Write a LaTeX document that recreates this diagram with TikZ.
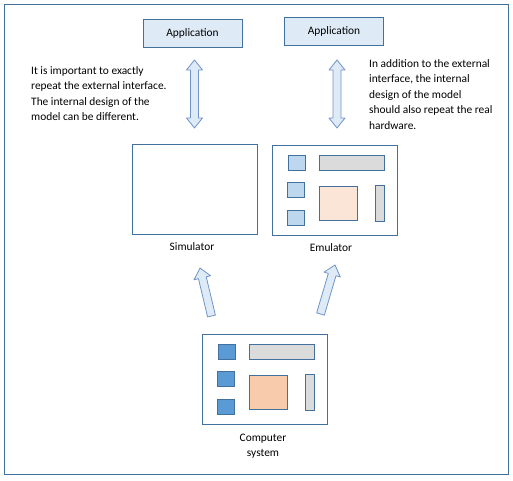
\documentclass[tikz,border=0pt]{standalone}
\usepackage{fontspec}
\setmainfont{Carlito}
\usetikzlibrary{calc}

\definecolor{lineblue}{HTML}{41719C}
\definecolor{paleblue}{HTML}{DEEBF7}
\definecolor{arrowblue}{HTML}{7094C6}
\definecolor{midblue}{HTML}{BDD7EE}
\definecolor{darkblue}{HTML}{5B9BD5}
\definecolor{chipgray}{HTML}{DBDBDB}
\definecolor{lightpeach}{HTML}{FBE5D6}
\definecolor{peach}{HTML}{F8CBAD}

% block arrow from tail #1 to tip #2
\newcommand{\blockarr}[2]{%
  \coordinate (hb) at ($(#2)!10pt!(#1)$);
  \draw[blockarrow] ($(#1)!4pt!90:(#2)$) -- ($(hb)!4pt!-90:(#1)$)
    -- ($(hb)!8.5pt!-90:(#1)$) -- (#2) -- ($(hb)!8.5pt!90:(#1)$)
    -- ($(hb)!4pt!90:(#1)$) -- ($(#1)!4pt!-90:(#2)$) -- cycle;}
% block arrow with tips at #1 and #2
\newcommand{\dblarr}[2]{%
  \coordinate (ha) at ($(#1)!10pt!(#2)$);
  \coordinate (hb) at ($(#2)!10pt!(#1)$);
  \draw[blockarrow] (#1) -- ($(ha)!8pt!90:(#2)$) -- ($(ha)!4pt!90:(#2)$)
    -- ($(hb)!4pt!-90:(#1)$) -- ($(hb)!8pt!-90:(#1)$) -- (#2)
    -- ($(hb)!8pt!90:(#1)$) -- ($(hb)!4pt!90:(#1)$)
    -- ($(ha)!4pt!-90:(#2)$) -- ($(ha)!8pt!-90:(#2)$) -- cycle;}
% parts inside a board: #1 board, #2 port colour, #3 chip colour
\newcommand{\board}[3]{%
  \foreach \dx/\dy/\k in {16/10/1,15/37/2,15/65/3}
    \node[part, fill=#2, minimum width=17pt, minimum height=15pt]
      (#1port\k) at ($(#1.north west)+(\dx,\dy)$) {};
  \node[part, fill=chipgray, minimum width=65pt, minimum height=15pt]
    (#1bus) at ($(#1.north west)+(47,10)$) {};
  \node[part, fill=#3, minimum width=38pt, minimum height=34pt]
    (#1cpu) at ($(#1.north west)+(47,41)$) {};
  \node[part, fill=chipgray, minimum width=9pt, minimum height=36pt]
    (#1mem) at ($(#1.north west)+(103,40)$) {};}

\begin{document}
\begin{tikzpicture}[x=1pt,y=-1pt,
    every node/.style={font=\fontsize{11.4}{15.5}\selectfont},
    box/.style={draw=lineblue, line width=1pt, inner sep=0pt,
                minimum width=125pt, minimum height=90pt},
    appbox/.style={draw=lineblue, fill=paleblue, line width=1pt,
                   minimum width=99pt, minimum height=28pt},
    part/.style={draw=lineblue, line width=1pt, anchor=north west, inner sep=0pt},
    note/.style={anchor=north west, align=left, inner sep=0pt},
    blockarrow/.style={draw=arrowblue, fill=paleblue, line width=0.8pt, line join=round}]
  \useasboundingbox (0,0) rectangle (513,480);
  \draw[lineblue, line width=1pt] (4,4) rectangle (508,474);

  \node[appbox] (app1) at (192.5,33) {Application};
  \node[appbox] (app2) at (334,31) {Application};

  \node[box] (sim) at (194.5,189) {};
  \node[box] (emu) at (334.5,190) {};
  \node[box] (comp) at (265,379) {};
  \board{emu}{midblue}{lightpeach}
  \board{comp}{darkblue}{peach}

  \node (simlabel) at (192,247) {Simulator};
  \node (emulabel) at (331,248) {Emulator};
  \node[align=center] (complabel) at (263,446) {Computer\\system};

  \node[note] (simnote) at (31,66) {It is important to exactly\\repeat the external interface.\\The internal design of the\\model can be different.};
  \node[note] (emunote) at (369,59) {In addition to the external\\interface, the internal\\design of the model\\should also repeat the real\\hardware.};

  % interface arrows
  \coordinate (simtop) at (194.5,60);
  \coordinate (simbot) at (194.5,128);
  \coordinate (emutop) at (337,60);
  \coordinate (emubot) at (337,128);
  \dblarr{simtop}{simbot}
  \dblarr{emutop}{emubot}

  % modelling arrows
  \coordinate (compleft) at (211.5,316);
  \coordinate (simin) at (200,268);
  \coordinate (compright) at (320.5,314);
  \coordinate (emuin) at (335,265);
  \blockarr{compleft}{simin}
  \blockarr{compright}{emuin}
\end{tikzpicture}
\end{document}
